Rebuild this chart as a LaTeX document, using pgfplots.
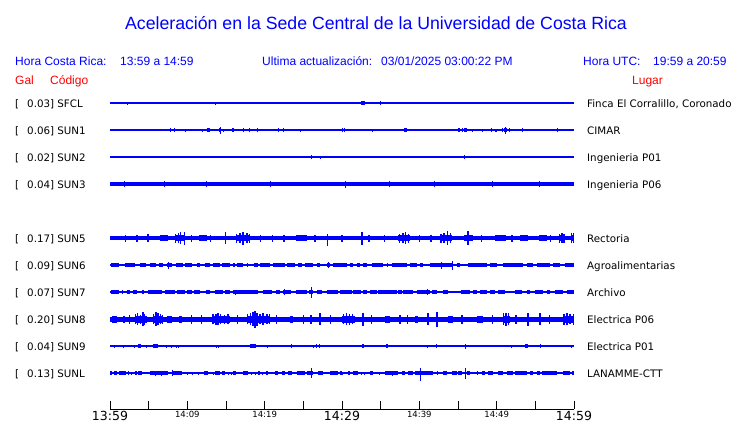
\documentclass[border=0pt]{standalone}
\usepackage{pgfplots}
\pgfplotsset{compat=1.18}
\usepackage{fontspec}
\setmainfont{Liberation Sans}
\newfontfamily\dv{DejaVu Sans}
\definecolor{tb}{RGB}{0,0,255}
\definecolor{tr}{RGB}{255,0,0}
\pgfplotsset{tr/.style={color=tb, line width=#1, mark=none, unbounded coords=jump, line cap=butt}}
\newcommand{\hd}{\fontsize{12}{14}\selectfont}
\newcommand{\st}{\dv\fontsize{10.3}{12}\selectfont}
\begin{document}
\begin{tikzpicture}
\useasboundingbox (0,0) rectangle (740pt,-423pt);
\node[anchor=base, inner sep=0pt, text=tb] at (376pt,-29pt) {\fontsize{17.7}{20}\selectfont Aceleración en la Sede Central de la Universidad de Costa Rica};
\node[anchor=base west, inner sep=0pt, text=tb] at (15pt,-65pt) {\hd Hora Costa Rica:};
\node[anchor=base west, inner sep=0pt, text=tb] at (120pt,-65pt) {\hd 13:59 a 14:59};
\node[anchor=base west, inner sep=0pt, text=tb] at (262pt,-65pt) {\hd Ultima actualización:};
\node[anchor=base west, inner sep=0pt, text=tb] at (381pt,-65pt) {\hd 03/01/2025 03:00:22 PM};
\node[anchor=base west, inner sep=0pt, text=tb] at (583pt,-65pt) {\hd Hora UTC:};
\node[anchor=base west, inner sep=0pt, text=tb] at (653pt,-65pt) {\hd 19:59 a 20:59};
\node[anchor=base west, inner sep=0pt, text=tr] at (15pt,-84pt) {\hd Gal};
\node[anchor=base west, inner sep=0pt, text=tr] at (50pt,-84pt) {\hd Código};
\node[anchor=base west, inner sep=0pt, text=tr] at (632pt,-84pt) {\hd Lugar};
\foreach \v/\c/\b/\p in {0.03/SFCL/107/{Finca El Corralillo, Coronado},0.06/SUN1/134/CIMAR,0.02/SUN2/161/Ingenieria P01,0.04/SUN3/188/Ingenieria P06,0.17/SUN5/242/Rectoria,0.09/SUN6/269/Agroalimentarias,0.07/SUN7/296/Archivo,0.20/SUN8/323/Electrica P06,0.04/SUN9/350/Electrica P01,0.13/SUNL/377/LANAMME-CTT}{
  \node[anchor=base west, inner sep=0pt] at (15pt,-\b pt) {\st [};
  \node[anchor=base west, inner sep=0pt] at (27pt,-\b pt) {\st \v] \c};
  \node[anchor=base west, inner sep=0pt] at (587pt,-\b pt) {\st \p};
}
\begin{axis}[
  at={(110pt,-409pt)}, anchor=south west,
  scale only axis, width=464pt, height=319pt,
  xmin=0, xmax=60, ymin=0, ymax=319,
  axis x line*=bottom, axis y line=none,
  axis line style={black, line width=1pt},
  xtick={0,5,...,60},
  xticklabels={{\fontsize{12.5}{14}\selectfont 13:59},{},{\fontsize{8.5}{9}\selectfont 14:09},{},{\fontsize{8.5}{9}\selectfont 14:19},{},{\fontsize{12.5}{14}\selectfont 14:29},{},{\fontsize{8.5}{9}\selectfont 14:39},{},{\fontsize{8.5}{9}\selectfont 14:49},{},{\fontsize{12.5}{14}\selectfont 14:59}},
  tick align=inside, major tick length=8pt,
  tick style={black, line width=1pt},
  xticklabel style={anchor=north, inner sep=0pt, yshift=-2pt, font=\dv},
  clip=false,
]
% ---------- SFCL ----------
\addplot[tr=1.2pt] coordinates {(0,306)(60,306)};
\addplot[tr=4pt] coordinates {(32.5,306)(33.0,306)};
\addplot[tr=1pt] coordinates {(2.3,304.5)(2.3,306)(2.3,nan)(13.6,304.5)(13.6,306.5)(13.6,nan)(31.7,306)(31.7,307.5)(31.7,nan)(35.0,304)(35.0,308)(35.0,nan)(38.8,305)(38.8,307)};
% ---------- SUN1 ----------
\addplot[tr=1.2pt] coordinates {(0,279)(60,279)};
\addplot[tr=3.5pt] coordinates {(7.7,279)(7.95,279)(7.95,nan)(12.5,279)(12.95,279)(12.95,nan)(15.8,279)(16.0,279)(16.0,nan)(38.0,279)(38.4,279)(38.4,nan)(44.95,279)(45.3,279)(45.3,nan)(45.5,279)(45.7,279)(45.7,nan)(45.9,279)(46.2,279)(46.2,nan)(51.0,279)(51.3,279)};
\addplot[tr=1pt] coordinates {(1.3,279)(1.3,280.5)(1.3,nan)(8.3,277)(8.3,281)(8.3,nan)(9.7,277.5)(9.7,279)(9.7,nan)(11.9,277.5)(11.9,280.5)(11.9,nan)(14.1,277)(14.1,281)(14.1,nan)(14.35,275.5)(14.35,282.5)(14.35,nan)(14.74,277.5)(14.74,280.5)(14.74,nan)(15.1,279)(15.1,280.5)(15.1,nan)(16.3,279)(16.3,280.5)(16.3,nan)(17.2,277)(17.2,281)(17.2,nan)(18.0,277)(18.0,281)(18.0,nan)(19.1,277)(19.1,281)(19.1,nan)(21.85,277)(21.85,281)(21.85,nan)(22.4,277)(22.4,281)(22.4,nan)(24.6,277.5)(24.6,279)(24.6,nan)(30.1,277)(30.1,281)(30.1,nan)(30.3,277)(30.3,281)(30.3,nan)(33.9,277.5)(33.9,279)(33.9,nan)(41.8,279)(41.8,280.5)(41.8,nan)(45.9,277)(45.9,281)(45.9,nan)(46.9,277.5)(46.9,280.5)(46.9,nan)(48.2,277.5)(48.2,280.5)(48.2,nan)(49.3,277)(49.3,281)(49.3,nan)(49.8,277.5)(49.8,280.5)(49.8,nan)(50.0,277.5)(50.0,280.5)(50.0,nan)(50.7,277)(50.7,281)(50.7,nan)(51.2,275.5)(51.2,282.5)(51.2,nan)(51.7,277)(51.7,281)(51.7,nan)(53.4,277)(53.4,281)(53.4,nan)(57.9,277)(57.9,281)};
% ---------- SUN2 ----------
\addplot[tr=1.2pt] coordinates {(0,252)(60,252)};
\addplot[tr=1pt] coordinates {(26.1,250)(26.1,254)(26.1,nan)(27.2,250.5)(27.2,252)(27.2,nan)(45.9,250)(45.9,254)};
% ---------- SUN3 ----------
\addplot[tr=4.2pt] coordinates {(0,225)(60,225)};
\addplot[tr=1pt] coordinates {(1.9,222)(1.9,228)(1.9,nan)(7.1,222)(7.1,228)(7.1,nan)(12.5,222.2)(12.5,227.8)(12.5,nan)(20.7,222)(20.7,228)(20.7,nan)(30.5,221.5)(30.5,228.5)(30.5,nan)(36.2,222.2)(36.2,227.8)(36.2,nan)(42.0,222)(42.0,228)(42.0,nan)(49.5,222.2)(49.5,227.8)(49.5,nan)(55.6,222)(55.6,228)};
% ---------- SUN5 ----------
\addplot[tr=4.5pt] coordinates {(0,171)(60,171)};
\addplot[tr=6pt] coordinates {(6.5,171)(7.5,171)(7.5,nan)(8.4,171)(9.7,171)(9.7,nan)(11.5,171)(12.5,171)(12.5,nan)(16.3,171)(18.1,171)(18.1,nan)(24,171)(25.5,171)(25.5,nan)(37.3,171)(38.8,171)(38.8,nan)(42.7,171)(44.2,171)(44.2,nan)(45.8,171)(47,171)(47,nan)(49.8,171)(51.2,171)(51.2,nan)(53,171)(54,171)(54,nan)(55.5,171)(56.5,171)(56.5,nan)(58.0,171)(58.8,171)(58.8,nan)(59.6,171)(60,171)};
\addplot[tr=1.3pt] coordinates {(4.9,167)(4.9,175)(4.9,nan)(9.1,165)(9.1,177)(9.1,nan)(9.6,164.5)(9.6,177.5)(9.6,nan)(14.9,165)(14.9,177)(14.9,nan)(17.2,164.5)(17.2,177.5)(17.2,nan)(17.7,166)(17.7,176)(17.7,nan)(28.1,163)(28.1,175)(28.1,nan)(32.6,164)(32.6,177)(32.6,nan)(38.2,165)(38.2,177)(38.2,nan)(43.6,164)(43.6,178)(43.6,nan)(46.3,164)(46.3,178)(46.3,nan)(58.45,166)(58.45,176)(58.45,nan)
(8.5,166.5)(8.5,175.5)(8.5,nan)(8.9,166)(8.9,176)(8.9,nan)(16.4,166.5)(16.4,175.5)(16.4,nan)(16.8,166)(16.8,176)(16.8,nan)(18.0,166.5)(18.0,175.5)(18.0,nan)(37.4,166.5)(37.4,175.5)(37.4,nan)(37.9,166)(37.9,176)(37.9,nan)(38.6,166.5)(38.6,175.5)(38.6,nan)(42.8,166.5)(42.8,175.5)(42.8,nan)(43.2,166)(43.2,176)(43.2,nan)(44.0,166)(44.0,176)(44.0,nan)(58.1,166.5)(58.1,175.5)(58.1,nan)(58.7,166.5)(58.7,175.5)(58.7,nan)(59.7,166)(59.7,176)(59.7,nan)(59.95,166)(59.95,176)(59.95,nan)
(2.0,167.5)(2.0,174.5)(2.0,nan)(3.5,167.5)(3.5,174.5)(3.5,nan)(10.5,167.5)(10.5,174.5)(10.5,nan)(13.0,167.5)(13.0,174.5)(13.0,nan)(19.5,167.5)(19.5,174.5)(19.5,nan)(21.0,167.5)(21.0,174.5)(21.0,nan)(22.5,167.5)(22.5,174.5)(22.5,nan)(26.5,167.5)(26.5,174.5)(26.5,nan)(30.0,167.5)(30.0,174.5)(30.0,nan)(33.5,167.5)(33.5,174.5)(33.5,nan)(35.5,167.5)(35.5,174.5)(35.5,nan)(40.0,167.5)(40.0,174.5)(40.0,nan)(41.5,167.5)(41.5,174.5)(41.5,nan)(48.0,167.5)(48.0,174.5)(48.0,nan)(52.0,167.5)(52.0,174.5)(52.0,nan)(57.0,167.5)(57.0,174.5)};
% ---------- SUN6 ----------
\addplot[tr=1.5pt] coordinates {(0,144)(60,144)};
\addplot[tr=4pt] coordinates {(0.13,144)(1.16,144)(1.16,nan)(1.94,144)(3.23,144)(3.23,nan)(3.88,144)(4.66,144)(4.66,nan)(5.17,144)(5.95,144)(5.95,nan)(6.34,144)(6.85,144)(6.85,nan)(7.37,144)(8.02,144)(8.02,nan)(8.53,144)(9.44,144)(9.44,nan)(9.70,144)(10.60,144)(10.60,nan)(11.25,144)(11.64,144)(11.64,nan)(12.28,144)(12.93,144)(12.93,nan)(13.32,144)(14.22,144)(14.22,nan)(14.48,144)(15.52,144)(15.52,nan)(15.90,144)(16.16,144)(16.16,nan)(16.42,144)(17.20,144)(17.20,nan)(17.72,144)(17.84,144)(17.84,nan)(18.62,144)(19.14,144)(19.14,nan)(19.40,144)(20.69,144)(20.69,nan)(21.08,144)(22.63,144)(22.63,nan)(22.89,144)(23.92,144)(23.92,nan)(24.31,144)(24.83,144)(24.83,nan)(25.21,144)(26.25,144)(26.25,nan)(26.77,144)(27.15,144)(27.15,nan)(28.06,144)(28.45,144)(28.45,nan)(28.84,144)(30.65,144)(30.65,nan)(31.03,144)(31.42,144)(31.42,nan)(31.94,144)(32.33,144)(32.33,nan)(32.71,144)(33.23,144)(33.23,nan)(33.88,144)(35.30,144)(35.30,nan)(35.82,144)(35.95,144)(35.95,nan)(36.46,144)(38.40,144)(38.40,nan)(38.79,144)(39.70,144)(39.70,nan)(40.09,144)(40.47,144)(40.47,nan)(41.38,144)(44.35,144)(44.35,nan)(44.87,144)(45.26,144)(45.26,nan)(46.29,144)(48.75,144)(48.75,nan)(49.14,144)(50.04,144)(50.04,nan)(50.82,144)(53.40,144)(53.40,nan)(53.92,144)(54.70,144)(54.70,nan)(55.21,144)(56.90,144)(56.90,nan)(57.28,144)(58.19,144)(58.19,nan)(58.83,144)(60,144)};
\addplot[tr=1pt] coordinates {(7.5,140.5)(7.5,147.5)(7.5,nan)(28.2,141)(28.2,147)(28.2,nan)(42.9,140.5)(42.9,147.5)(42.9,nan)(44.35,139.5)(44.35,148.5)};
% ---------- SUN7 ----------
\addplot[tr=1.5pt] coordinates {(0,117)(60,117)};
\addplot[tr=4pt] coordinates {(0.13,117)(1.16,117)(1.16,nan)(1.55,117)(1.68,117)(1.68,nan)(2.20,117)(2.59,117)(2.59,nan)(2.97,117)(3.49,117)(3.49,nan)(4.14,117)(4.40,117)(4.40,nan)(4.91,117)(6.72,117)(6.72,nan)(7.11,117)(8.40,117)(8.40,nan)(8.66,117)(9.70,117)(9.70,nan)(9.96,117)(10.60,117)(10.60,nan)(10.86,117)(11.64,117)(11.64,nan)(12.41,117)(12.93,117)(12.93,nan)(13.58,117)(14.61,117)(14.61,nan)(14.87,117)(15.52,117)(15.52,nan)(15.90,117)(19.14,117)(19.14,nan)(19.78,117)(20.95,117)(20.95,nan)(21.46,117)(21.98,117)(21.98,nan)(22.37,117)(23.40,117)(23.40,nan)(24.05,117)(25.47,117)(25.47,nan)(25.73,117)(26.25,117)(26.25,nan)(26.77,117)(27.42,117)(27.42,nan)(28.06,117)(29.48,117)(29.48,nan)(29.74,117)(31.29,117)(31.29,nan)(31.42,117)(32.46,117)(32.46,nan)(32.71,117)(33.23,117)(33.23,nan)(33.62,117)(34.52,117)(34.52,nan)(34.65,117)(37.11,117)(37.11,nan)(37.24,117)(37.76,117)(37.76,nan)(37.88,117)(39.18,117)(39.18,nan)(39.70,117)(41.38,117)(41.38,nan)(41.64,117)(42.28,117)(42.28,nan)(43.06,117)(43.71,117)(43.71,nan)(45.39,117)(46.55,117)(46.55,nan)(46.94,117)(47.45,117)(47.45,nan)(47.84,117)(48.75,117)(48.75,nan)(49.14,117)(49.78,117)(49.78,nan)(50.17,117)(51.07,117)(51.07,nan)(52.37,117)(53.27,117)(53.27,nan)(53.92,117)(54.31,117)(54.31,nan)(54.95,117)(55.99,117)(55.99,nan)(56.51,117)(56.90,117)(56.90,nan)(57.54,117)(58.58,117)(58.58,nan)(59.09,117)(60,117)};
\addplot[tr=1pt] coordinates {(16.2,114.5)(16.2,119.5)(16.2,nan)(22.6,114)(22.6,120)(22.6,nan)(26.0,111.5)(26.0,122)(26.0,nan)(41.0,114)(41.0,120)(41.0,nan)(44.4,116)(44.4,118.5)(44.4,nan)(44.9,116)(44.9,118.5)};
% ---------- SUN8 ----------
\addplot[tr=5pt] coordinates {(0,90)(60,90)};
\addplot[tr=7pt] coordinates {(0.26,90)(0.91,90)(0.91,nan)(1.68,90)(1.94,90)(1.94,nan)(3.23,90)(4.78,90)(4.78,nan)(5.56,90)(6.85,90)(6.85,nan)(7.37,90)(8.02,90)(8.02,nan)(8.92,90)(9.31,90)(9.31,nan)(13.19,90)(15.52,90)(15.52,nan)(17.72,90)(20.69,90)(20.69,nan)(23.28,90)(23.66,90)(23.66,nan)(30.0,90)(31.68,90)(31.68,nan)(35.56,90)(36.21,90)(36.21,nan)(39.44,90)(39.83,90)(39.83,nan)(43.71,90)(44.35,90)(44.35,nan)(47.45,90)(48.23,90)(48.23,nan)(50.82,90)(51.72,90)(51.72,nan)(58.58,90)(60,90)};
\addplot[tr=1.3pt] coordinates {(4.27,83)(4.27,97)(4.27,nan)(5.95,83)(5.95,97)(5.95,nan)(13.96,84)(13.96,96)(13.96,nan)(15.26,85)(15.26,95)(15.26,nan)(18.75,81)(18.75,98)(18.75,nan)(27.15,84)(27.15,96)(27.15,nan)(32.71,83)(32.71,96)(32.71,nan)(41.12,84)(41.12,96)(41.12,nan)(42.28,82)(42.28,97)(42.28,nan)(54.05,83.5)(54.05,96.5)(54.05,nan)(55.60,84)(55.60,96)(55.60,nan)
(3.3,85)(3.3,95)(3.3,nan)(3.6,84)(3.6,96)(3.6,nan)(3.9,85.5)(3.9,94.5)(3.9,nan)(4.5,84.5)(4.5,95.5)(4.5,nan)(5.6,85)(5.6,95)(5.6,nan)(6.2,84)(6.2,96)(6.2,nan)(6.5,85)(6.5,95)(6.5,nan)(6.8,85.5)(6.8,94.5)(6.8,nan)(13.3,85)(13.3,95)(13.3,nan)(13.7,84.5)(13.7,95.5)(13.7,nan)(14.3,85)(14.3,95)(14.3,nan)(14.8,85.5)(14.8,94.5)(14.8,nan)(17.8,85)(17.8,95)(17.8,nan)(18.2,84)(18.2,96)(18.2,nan)(18.5,83)(18.5,97)(18.5,nan)(19.0,83.5)(19.0,96.5)(19.0,nan)(19.4,85)(19.4,95)(19.4,nan)(19.8,84)(19.8,96)(19.8,nan)(20.3,85)(20.3,95)(20.3,nan)(20.6,85)(20.6,95)(20.6,nan)(30.2,85)(30.2,95)(30.2,nan)(30.6,84)(30.6,96)(30.6,nan)(31.0,84.5)(31.0,95.5)(31.0,nan)(31.4,85)(31.4,95)(31.4,nan)(50.9,84)(50.9,96)(50.9,nan)(51.2,83.5)(51.2,96.5)(51.2,nan)(51.5,84)(51.5,96)(51.5,nan)(58.7,84.5)(58.7,95.5)(58.7,nan)(59.1,84)(59.1,96)(59.1,nan)(59.5,85)(59.5,95)(59.5,nan)(59.9,84.5)(59.9,95.5)(59.9,nan)
(2.5,85.5)(2.5,94.5)(2.5,nan)(10.5,85.5)(10.5,94.5)(10.5,nan)(11.8,85.5)(11.8,94.5)(11.8,nan)(16.5,85.5)(16.5,94.5)(16.5,nan)(21.5,85.5)(21.5,94.5)(21.5,nan)(25.0,85.5)(25.0,94.5)(25.0,nan)(26.0,85.5)(26.0,94.5)(26.0,nan)(28.5,85.5)(28.5,94.5)(28.5,nan)(33.8,85.5)(33.8,94.5)(33.8,nan)(37.5,85.5)(37.5,94.5)(37.5,nan)(38.5,85.5)(38.5,94.5)(38.5,nan)(45.5,85.5)(45.5,94.5)(45.5,nan)(49.5,85.5)(49.5,94.5)(49.5,nan)(52.5,85.5)(52.5,94.5)(52.5,nan)(56.8,85.5)(56.8,94.5)};
% ---------- SUN9 ----------
\addplot[tr=1.2pt] coordinates {(0,63)(60,63)};
\addplot[tr=4.5pt] coordinates {(3.62,63)(4.01,63)(4.01,nan)(5.56,63)(6.21,63)(6.21,nan)(18.10,63)(18.88,63)(18.88,nan)(32.6,63)(32.85,63)(32.85,nan)(35.7,63)(35.95,63)(35.95,nan)(53.66,63)(54.05,63)};
\addplot[tr=1pt] coordinates {(0.52,61.5)(0.52,63)(0.52,nan)(1.81,61.5)(1.81,64.5)(1.81,nan)(2.59,63)(2.59,64.5)(2.59,nan)(3.23,61.5)(3.23,64.5)(3.23,nan)(4.40,63)(4.40,64.5)(4.40,nan)(4.66,61.5)(4.66,64.5)(4.66,nan)(6.59,63)(6.59,64.5)(6.59,nan)(7.37,61.5)(7.37,64.5)(7.37,nan)(7.89,61.5)(7.89,64.5)(7.89,nan)(8.66,61.5)(8.66,63)(8.66,nan)(8.92,61.5)(8.92,63)(8.92,nan)(9.57,63)(9.57,64.5)(9.57,nan)(12.15,63)(12.15,64.5)(12.15,nan)(13.71,61.5)(13.71,64.5)(13.71,nan)(14.09,61.5)(14.09,64.5)(14.09,nan)(19.53,63)(19.53,64.5)(19.53,nan)(19.65,63)(19.65,64.5)(19.65,nan)(20.43,61.5)(20.43,63)(20.43,nan)(23.53,61)(23.53,65)(23.53,nan)(26.25,61.5)(26.25,63)(26.25,nan)(26.64,61)(26.64,65)(26.64,nan)(27.15,61)(27.15,65)(27.15,nan)(41.12,61.5)(41.12,64.5)(41.12,nan)(42.28,61)(42.28,65)(42.28,nan)(42.93,63)(42.93,64.5)(42.93,nan)(45.91,60.5)(45.91,65.5)(45.91,nan)(46.94,63)(46.94,64.5)(46.94,nan)(51.21,63)(51.21,64.5)(51.21,nan)(51.98,61.5)(51.98,63)(51.98,nan)(55.73,61)(55.73,65)(55.73,nan)(57.54,63)(57.54,64.5)(57.54,nan)(59.74,61.5)(59.74,63)};
% ---------- SUNL ----------
\addplot[tr=1.5pt] coordinates {(0,36)(60,36)};
\addplot[tr=4pt] coordinates {(0,36)(0.26,36)(0.26,nan)(0.52,36)(0.91,36)(0.91,nan)(1.16,36)(2.07,36)(2.07,nan)(3.23,36)(3.49,36)(3.49,nan)(3.62,36)(4.14,36)(4.14,nan)(5.17,36)(7.50,36)(7.50,nan)(8.15,36)(9.31,36)(9.31,nan)(12.15,36)(12.67,36)(12.67,nan)(13.58,36)(14.22,36)(14.22,nan)(14.48,36)(14.87,36)(14.87,nan)(15.90,36)(16.29,36)(16.29,nan)(17.20,36)(17.84,36)(17.84,nan)(19.14,36)(19.40,36)(19.40,nan)(20.17,36)(20.43,36)(20.43,nan)(21.34,36)(21.72,36)(21.72,nan)(22.24,36)(22.63,36)(22.63,nan)(23.02,36)(23.53,36)(23.53,nan)(24.18,36)(25.21,36)(25.21,nan)(25.47,36)(26.25,36)(26.25,nan)(26.90,36)(27.54,36)(27.54,nan)(28.45,36)(29.48,36)(29.48,nan)(29.74,36)(30.00,36)(30.00,nan)(30.77,36)(31.03,36)(31.03,nan)(31.42,36)(32.07,36)(32.07,nan)(33.62,36)(34.01,36)(34.01,nan)(35.56,36)(37.24,36)(37.24,nan)(37.76,36)(38.15,36)(38.15,nan)(38.53,36)(39.18,36)(39.18,nan)(39.44,36)(41.77,36)(41.77,nan)(42.28,36)(42.41,36)(42.41,nan)(43.06,36)(43.58,36)(43.58,nan)(44.22,36)(44.87,36)(44.87,nan)(45.00,36)(45.52,36)(45.52,nan)(46.16,36)(46.55,36)(46.55,nan)(47.45,36)(47.58,36)(47.58,nan)(48.10,36)(48.49,36)(48.49,nan)(48.88,36)(49.52,36)(49.52,nan)(50.17,36)(50.82,36)(50.82,nan)(51.33,36)(52.11,36)(52.11,nan)(52.37,36)(53.92,36)(53.92,nan)(54.31,36)(54.70,36)(54.70,nan)(55.21,36)(55.60,36)(55.60,nan)(55.86,36)(57.80,36)(57.80,nan)(58.58,36)(59.48,36)(59.48,nan)(59.74,36)(60,36)};
\addplot[tr=1pt] coordinates {(2.33,34)(2.33,38)(2.33,nan)(2.84,34.5)(2.84,37.5)(2.84,nan)(5.82,33.5)(5.82,38.5)(5.82,nan)(6.72,33.5)(6.72,38.5)(6.72,nan)(8.02,33)(8.02,39)(8.02,nan)(9.96,34.5)(9.96,37.5)(9.96,nan)(10.73,34.5)(10.73,37.5)(10.73,nan)(11.38,34.5)(11.38,37.5)(11.38,nan)(13.32,34.5)(13.32,37.5)(13.32,nan)(15.26,34.5)(15.26,37.5)(15.26,nan)(15.65,34.5)(15.65,37.5)(15.65,nan)(18.36,34.5)(18.36,37.5)(18.36,nan)(18.75,34.5)(18.75,37.5)(18.75,nan)(19.78,34.5)(19.78,37.5)(19.78,nan)(26.12,31)(26.12,41)(26.12,nan)(30.0,34.5)(30.0,37.5)(30.0,nan)(32.58,34.5)(32.58,37.5)(32.58,nan)(32.97,34.5)(32.97,37.5)(32.97,nan)(34.91,34.5)(34.91,37.5)(34.91,nan)(36.59,33.5)(36.59,38.5)(36.59,nan)(40.09,28)(40.09,41)(40.09,nan)(45.91,30)(45.91,41)};
\end{axis}
\end{tikzpicture}
\end{document}
